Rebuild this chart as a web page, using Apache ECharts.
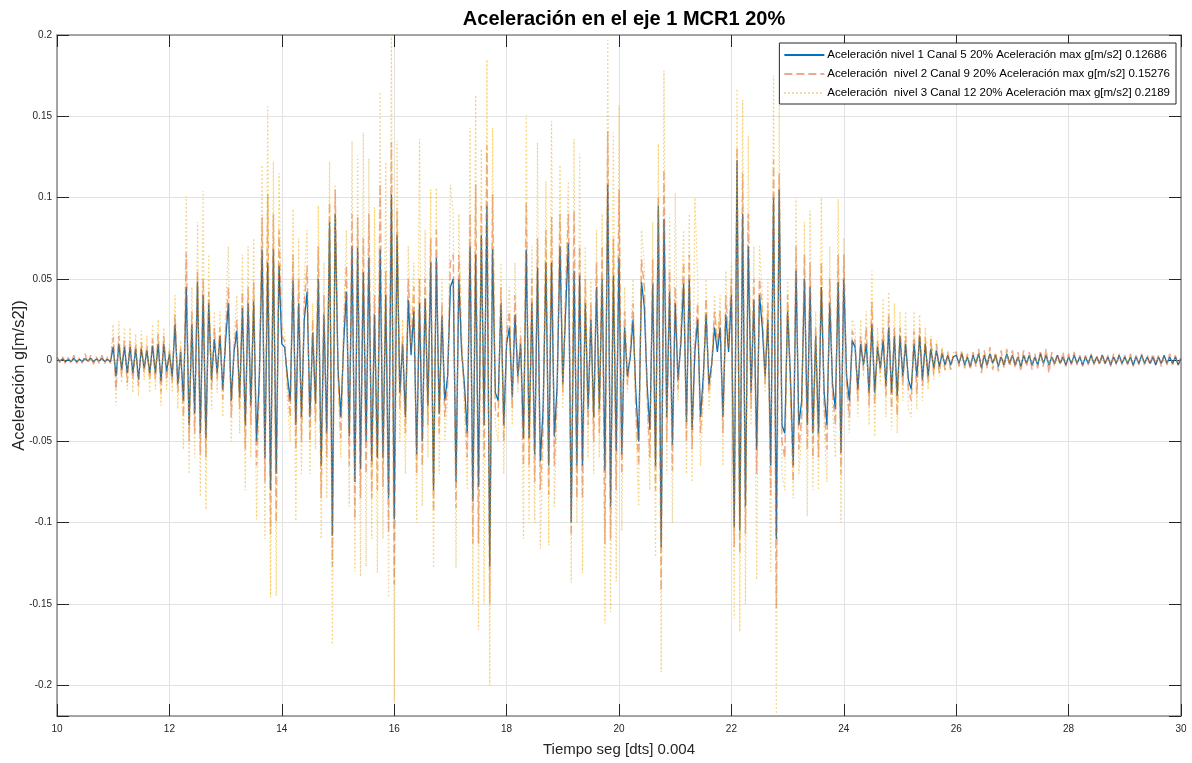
<!DOCTYPE html>
<html>
<head>
<meta charset="utf-8">
<script src="https://cdn.jsdelivr.net/npm/echarts@6/dist/echarts.min.js"></script>
<style>html,body{margin:0;padding:0;background:#fff;}#c{width:1192px;height:763px;}</style>
</head>
<body>
<div id="c"></div>
<script>
// Sampled record: start time and step (s)
const t0 = 10, dt = 0.05;

const xTicks = [10, 12, 14, 16, 18, 20, 22, 24, 26, 28, 30];

const nombres = [
  'Aceleración nivel 1 Canal 5 20% Aceleración max g[m/s2] 0.12686',
  'Aceleración  nivel 2 Canal 9 20% Aceleración max g[m/s2] 0.15276',
  'Aceleración  nivel 3 Canal 12 20% Aceleración max g[m/s2] 0.2189'
];

// Nivel 1 (blue)
const nivel1 = [
  0.001,-0.0005,0.0008,-0.001,0.0005,-0.0008,0.001,-0.001,0.0006,-0.0008,0.001,-0.0006,0.0012,-0.001,0.0008,-0.0005,0.001,-0.0008,0.0006,-0.001,
  0.008,-0.010,0.010,-0.006,0.008,-0.008,0.008,-0.008,0.007,-0.012,0.007,-0.005,0.006,-0.008,0.009,-0.008,0.010,-0.013,0.010,-0.007,
  0.004,-0.010,0.022,-0.015,0.005,-0.025,0.045,-0.040,0.022,-0.033,0.048,-0.045,0.040,-0.048,0.035,-0.012,0.013,-0.008,0.015,-0.018,
  0.012,0.035,-0.025,0.005,0.018,-0.023,0.032,-0.040,0.035,-0.028,0.036,-0.050,-0.010,0.068,-0.060,0.060,-0.080,0.068,-0.070,0.058,
  0.010,0.008,-0.010,-0.025,0.049,-0.040,0.035,-0.035,0.025,0.042,-0.035,0.017,-0.027,0.050,-0.065,0.028,-0.045,0.085,-0.108,0.090,
  -0.005,-0.035,0.010,0.042,-0.047,0.070,-0.075,0.069,-0.067,0.054,-0.050,0.063,-0.062,0.028,-0.060,0.068,-0.060,0.040,-0.085,0.102,
  -0.098,0.077,-0.020,0.010,-0.035,0.037,0.003,0.030,-0.058,0.035,-0.050,0.038,-0.028,0.060,-0.080,0.063,-0.033,0.027,-0.025,-0.010,
  0.045,0.050,-0.075,0.050,0.005,-0.015,-0.045,0.070,-0.087,0.065,-0.078,0.077,-0.040,0.095,-0.12686,0.068,-0.020,-0.025,0.035,-0.040,
  0.010,0.020,-0.023,0.028,-0.010,0.010,-0.048,0.068,-0.048,0.035,-0.058,0.057,-0.062,-0.030,0.060,-0.065,0.060,-0.047,-0.015,0.070,
  -0.015,0.030,0.072,-0.100,0.055,-0.065,0.052,-0.065,0.035,-0.030,0.025,-0.035,0.045,-0.030,0.050,-0.068,0.108,-0.090,0.052,-0.056,
  0.063,-0.058,0.020,-0.010,0.002,0.025,-0.020,-0.050,0.048,0.033,-0.015,-0.043,0.047,-0.065,0.095,-0.115,0.087,-0.035,0.042,-0.052,
  0.035,-0.012,0.010,0.047,-0.038,0.050,-0.043,0.005,0.025,-0.035,-0.010,0.028,-0.015,-0.002,0.020,0.005,0.020,-0.035,0.028,0.005,
  0.040,-0.103,0.123,-0.105,0.090,-0.090,0.070,-0.020,0.037,-0.055,0.040,0.020,-0.010,0.025,-0.065,0.100,-0.110,0.105,-0.040,-0.045,
  0.030,-0.010,-0.065,0.055,-0.040,-0.025,0.050,-0.040,0.045,-0.045,0.015,-0.045,0.045,-0.020,-0.040,0.035,-0.015,-0.030,0.048,-0.057,
  0.050,-0.010,-0.025,0.012,0.008,-0.018,0.010,-0.003,0.010,-0.020,0.022,-0.020,0.008,-0.005,0.012,-0.016,0.020,-0.020,0.015,-0.022,
  0.015,-0.010,0.010,-0.012,-0.018,0.010,-0.010,0.015,-0.012,0.010,-0.010,0.007,-0.005,0.006,-0.004,0.004,-0.003,0.003,-0.003,0.002,
  0.003,-0.002,0.004,-0.003,0.002,-0.004,0.003,-0.002,0.004,-0.005,0.003,-0.003,0.004,-0.002,0.003,-0.004,0.002,-0.003,0.004,-0.002,
  0.003,-0.003,0.002,-0.004,0.003,-0.002,0.003,-0.003,0.002,-0.003,0.004,-0.002,0.003,-0.003,0.002,-0.002,0.003,-0.002,0.002,-0.003,
  0.002,-0.002,0.003,-0.002,0.002,-0.003,0.002,-0.002,0.003,-0.002,0.002,-0.002,0.003,-0.002,0.002,-0.003,0.002,-0.002,0.003,-0.002,
  0.002,-0.002,0.002,-0.003,0.002,-0.002,0.003,-0.002,0.002,-0.002,0.002,-0.003,0.002,-0.002,0.003,-0.002,0.002,-0.002,0.002,-0.003,
  0.001
];

// Nivel 2 (orange, dashed)
const nivel2 = [
  0.002,-0.0015,0.002,-0.002,0.0015,-0.002,0.003,-0.002,0.0015,-0.002,0.004,-0.002,0.003,-0.0025,0.002,-0.002,0.003,-0.002,0.002,-0.002,
  0.014,-0.018,0.015,-0.010,0.012,-0.014,0.012,-0.012,0.010,-0.016,0.011,-0.008,0.009,-0.012,0.013,-0.012,0.016,-0.020,0.015,-0.012,
  0.006,-0.014,0.028,-0.020,0.008,-0.035,0.066,-0.050,0.030,-0.045,0.055,-0.058,0.050,-0.060,0.042,-0.018,0.020,-0.012,0.020,-0.024,
  0.018,0.045,-0.035,0.008,0.025,-0.030,0.042,-0.055,0.045,-0.040,0.048,-0.065,-0.015,0.088,-0.075,0.102,-0.107,0.090,-0.100,0.080,
  0.015,0.012,-0.015,-0.035,0.065,-0.055,0.050,-0.050,0.035,0.058,-0.050,0.025,-0.038,0.070,-0.085,0.040,-0.060,0.097,-0.127,0.105,
  -0.008,-0.048,0.015,0.058,-0.065,0.090,-0.098,0.088,-0.085,0.075,-0.070,0.090,-0.085,0.040,-0.080,0.108,-0.078,0.055,-0.106,0.134,
  -0.138,0.092,-0.030,0.015,-0.045,0.050,0.006,0.045,-0.070,0.050,-0.065,0.050,-0.040,0.075,-0.093,0.080,-0.045,0.035,-0.035,-0.015,
  0.060,0.065,-0.091,0.065,0.008,-0.020,-0.060,0.090,-0.113,0.108,-0.113,0.095,-0.060,0.132,-0.150,0.102,-0.030,-0.035,0.045,-0.050,
  0.015,0.030,-0.030,0.040,-0.015,0.015,-0.065,0.097,-0.065,0.050,-0.075,0.075,-0.080,-0.040,0.080,-0.083,0.088,-0.065,-0.020,0.090,
  -0.020,0.040,0.090,-0.108,0.092,-0.085,0.070,-0.085,0.050,-0.040,0.035,-0.050,0.060,-0.045,0.070,-0.113,0.141,-0.110,0.075,-0.080,
  0.105,-0.070,0.030,-0.015,0.004,0.035,-0.030,-0.065,0.062,0.045,-0.020,-0.060,0.062,-0.080,0.101,-0.142,0.117,-0.050,0.055,-0.068,
  0.045,-0.018,0.015,0.060,-0.050,0.065,-0.055,0.008,0.035,-0.045,-0.015,0.038,-0.020,-0.004,0.030,0.008,0.030,-0.045,0.040,0.008,
  0.050,-0.115,0.131,-0.119,0.115,-0.107,0.090,-0.030,0.050,-0.070,0.050,0.030,-0.015,0.035,-0.083,0.123,-0.15276,0.115,-0.050,-0.060,
  0.040,-0.015,-0.075,0.070,-0.055,-0.035,0.065,-0.055,0.060,-0.060,0.020,-0.060,0.060,-0.028,-0.055,0.050,-0.020,-0.040,0.065,-0.070,
  0.065,-0.015,-0.035,0.018,0.012,-0.025,0.015,-0.006,0.020,-0.028,0.036,-0.027,0.012,-0.008,0.020,-0.022,0.028,-0.030,0.020,-0.034,
  0.020,-0.015,0.015,-0.018,-0.025,0.018,-0.021,0.020,-0.016,0.014,-0.014,0.013,-0.009,0.010,-0.008,0.007,-0.006,0.005,-0.006,0.004,
  0.005,-0.004,0.006,-0.005,0.004,-0.006,0.005,-0.004,0.007,-0.008,0.006,-0.005,0.008,-0.006,0.005,-0.007,0.006,-0.005,0.007,-0.004,
  0.006,-0.005,0.005,-0.007,0.006,-0.004,0.005,-0.006,0.004,-0.005,0.006,-0.004,0.007,-0.008,0.005,-0.004,0.004,-0.003,0.005,-0.004,
  0.004,-0.003,0.005,-0.003,0.003,-0.004,0.003,-0.003,0.004,-0.003,0.003,-0.003,0.004,-0.003,0.003,-0.004,0.004,-0.003,0.004,-0.003,
  0.003,-0.003,0.004,-0.004,0.003,-0.003,0.004,-0.003,0.003,-0.003,0.004,-0.003,0.003,-0.004,0.003,-0.003,0.004,-0.003,0.003,-0.003,
  0.002
];

// Nivel 3 (yellow, dotted)
const nivel3 = [
  0.0006,-0.0005,0.0005,-0.0006,0.0004,-0.0005,0.0006,-0.0005,0.0004,-0.0006,0.0007,-0.0005,0.0006,-0.0006,0.0005,-0.0004,0.0006,-0.0005,0.0004,-0.0006,
  0.022,-0.028,0.024,-0.014,0.020,-0.018,0.020,-0.020,0.016,-0.022,0.018,-0.012,0.015,-0.020,0.022,-0.018,0.025,-0.028,0.020,-0.018,
  0.010,-0.020,0.040,-0.030,0.012,-0.055,0.101,-0.070,0.045,-0.060,0.085,-0.084,0.104,-0.092,0.065,-0.030,0.030,-0.020,0.030,-0.035,
  0.030,0.070,-0.050,0.015,0.040,-0.045,0.065,-0.080,0.070,-0.060,0.075,-0.098,-0.020,0.120,-0.110,0.156,-0.146,0.122,-0.145,0.115,
  0.020,0.018,-0.025,-0.050,0.093,-0.099,0.075,-0.070,0.050,0.080,-0.070,0.035,-0.055,0.095,-0.110,0.060,-0.085,0.122,-0.175,0.108,
  -0.012,-0.060,0.025,0.080,-0.090,0.135,-0.130,0.126,-0.133,0.140,-0.127,0.124,-0.110,0.094,-0.131,0.165,-0.110,0.122,-0.146,0.200,
  -0.210,0.135,-0.050,0.025,-0.070,0.070,0.010,0.060,-0.100,0.136,-0.090,0.080,-0.060,0.105,-0.128,0.106,-0.070,0.050,-0.050,-0.025,
  0.108,0.090,-0.128,0.090,0.015,-0.030,-0.080,0.143,-0.150,0.163,-0.166,0.130,-0.150,0.185,-0.200,0.143,-0.040,-0.050,0.060,-0.070,
  0.020,0.045,-0.040,0.060,-0.020,0.020,-0.110,0.151,-0.100,0.070,-0.100,0.134,-0.116,-0.050,0.110,-0.114,0.147,-0.090,-0.030,0.120,
  -0.030,0.050,0.110,-0.137,0.136,-0.100,0.127,-0.131,0.070,-0.060,0.050,-0.070,0.080,-0.060,0.090,-0.162,0.197,-0.155,0.140,-0.136,
  0.157,-0.105,0.045,-0.020,0.006,0.050,-0.040,-0.090,0.080,0.060,-0.030,-0.080,0.085,-0.121,0.133,-0.192,0.178,-0.070,0.090,-0.100,
  0.103,-0.025,0.020,0.080,-0.070,0.090,-0.075,0.100,0.050,-0.065,-0.020,0.050,-0.030,-0.006,0.040,0.010,0.040,-0.065,0.055,0.010,
  0.060,-0.159,0.167,-0.167,0.160,-0.150,0.138,-0.040,0.070,-0.135,0.070,0.040,-0.020,0.050,-0.131,0.175,-0.2189,0.157,-0.070,-0.080,
  0.050,-0.020,-0.085,0.100,-0.070,-0.045,0.085,-0.096,0.092,-0.080,0.030,-0.080,0.100,-0.040,-0.075,0.070,-0.030,-0.060,0.099,-0.100,
  0.075,-0.020,-0.045,0.025,0.020,-0.035,0.025,-0.010,0.030,-0.040,0.055,-0.047,0.020,-0.015,0.038,-0.035,0.042,-0.043,0.035,-0.045,
  0.030,-0.025,0.030,-0.030,-0.035,0.030,-0.030,0.028,-0.025,0.020,-0.018,0.015,-0.012,0.012,-0.010,0.008,-0.007,0.006,-0.006,0.005,
  0.004,-0.003,0.005,-0.004,0.003,-0.005,0.004,-0.003,0.005,-0.006,0.004,-0.004,0.005,-0.003,0.004,-0.005,0.003,-0.004,0.005,-0.003,
  0.003,-0.003,0.002,-0.004,0.003,-0.002,0.003,-0.003,0.002,-0.003,0.003,-0.002,0.003,-0.003,0.002,-0.002,0.002,-0.002,0.002,-0.002,
  0.002,-0.001,0.002,-0.002,0.001,-0.002,0.001,-0.001,0.002,-0.001,0.001,-0.002,0.002,-0.001,0.001,-0.002,0.001,-0.001,0.002,-0.001,
  0.001,-0.001,0.002,-0.001,0.001,-0.001,0.002,-0.001,0.001,-0.001,0.002,-0.001,0.001,-0.001,0.001,-0.002,0.001,-0.001,0.001,-0.001,
  0.001
];

const FONT = "'Liberation Sans', Arial, Helvetica, sans-serif";
const toPairs = arr => arr.map((v, i) => [+(t0 + i * dt).toFixed(3), v]);

const yFmt = v => {
  const k = v / 0.05;
  if (Math.abs(k - Math.round(k)) > 1e-6) return '';
  return String(+v.toFixed(4));
};

const axisLineStyle = { color: '#8a8a8a', width: 1.5 };
const tickStyle = { color: '#262626', width: 1 };

const chart = echarts.init(document.getElementById('c'), null, { renderer: 'canvas' });
chart.setOption({
  animation: false,
  backgroundColor: '#ffffff',
  textStyle: { fontFamily: FONT },
  title: {
    text: 'Aceleración en el eje 1 MCR1 20%',
    left: 619, top: 4, textAlign: 'center',
    textStyle: { fontFamily: FONT, fontSize: 20, fontWeight: 'bold', color: '#000' }
  },
  grid: { left: 57, right: 11, top: 35, bottom: 47, containLabel: false, outerBoundsMode: 'none' },
  legend: {
    orient: 'vertical', right: 16, top: 43,
    backgroundColor: '#fff', borderColor: '#262626', borderWidth: 1,
    padding: [6, 6, 5, 4], itemGap: 7, itemWidth: 40, itemHeight: 12,
    itemStyle: { opacity: 0 },
    textStyle: { fontFamily: FONT, fontSize: 11.5, color: '#000', padding: [0, 0, 0, -2] },
    data: nombres
  },
  xAxis: [
    {
      type: 'value', min: 10, max: 30, interval: 2, position: 'bottom',
      axisLine: { show: true, onZero: false, lineStyle: axisLineStyle },
      axisTick: { show: true, inside: true, length: 12, lineStyle: tickStyle },
      axisLabel: { color: '#262626', fontSize: 10, margin: 8, fontFamily: FONT },
      splitLine: { show: true, lineStyle: { color: '#e2e2e2', width: 1 } },
      name: 'Tiempo seg [dts] 0.004', nameLocation: 'middle', nameGap: 26,
      nameTextStyle: { fontSize: 15, color: '#262626', fontFamily: FONT }
    },
    {
      type: 'value', min: 10, max: 30, interval: 2, position: 'top',
      axisLine: { show: true, onZero: false, lineStyle: axisLineStyle },
      axisTick: { show: true, inside: true, length: 12, lineStyle: tickStyle },
      axisLabel: { show: false }, splitLine: { show: false }
    }
  ],
  yAxis: [
    {
      type: 'value', min: -0.2189, max: 0.2, minInterval: 0.05, maxInterval: 0.05, splitNumber: 8,
      position: 'left',
      axisLine: { show: true, onZero: false, lineStyle: axisLineStyle },
      axisTick: { show: true, inside: true, length: 12, lineStyle: tickStyle },
      axisLabel: { color: '#262626', fontSize: 10, margin: 5, fontFamily: FONT, formatter: yFmt },
      splitLine: { show: true, lineStyle: { color: '#e2e2e2', width: 1 } },
      name: 'Aceleración g[m/s2])', nameLocation: 'middle', nameGap: 29, nameRotate: 90,
      nameMoveOverlap: false,
      nameTextStyle: { fontSize: 16.5, color: '#262626', fontFamily: FONT }
    },
    {
      type: 'value', min: -0.2189, max: 0.2, minInterval: 0.05, maxInterval: 0.05, splitNumber: 8,
      position: 'right',
      axisLine: { show: true, onZero: false, lineStyle: axisLineStyle },
      axisTick: { show: true, inside: true, length: 12, lineStyle: tickStyle },
      axisLabel: { show: false }, splitLine: { show: false }
    }
  ],
  series: [
    {
      name: nombres[0], type: 'line', data: toPairs(nivel1), xAxisIndex: 0, yAxisIndex: 0,
      symbol: 'none', showSymbol: false, sampling: 'none', clip: true, z: 3,
      color: '#0072BD',
      lineStyle: { color: '#0072BD', width: 1.3, type: 'solid' }
    },
    {
      name: nombres[1], type: 'line', data: toPairs(nivel2), xAxisIndex: 0, yAxisIndex: 0,
      symbol: 'none', showSymbol: false, sampling: 'none', clip: true, z: 4,
      color: '#D95319',
      lineStyle: { color: '#D95319', width: 1.5, type: [8, 4], opacity: 0.5 }
    },
    {
      name: nombres[2], type: 'line', data: toPairs(nivel3), xAxisIndex: 0, yAxisIndex: 0,
      symbol: 'none', showSymbol: false, sampling: 'none', clip: true, z: 5,
      color: '#EDB120',
      lineStyle: { color: '#EDB120', width: 1.2, type: [1.5, 2.5], opacity: 0.6 }
    }
  ]
});
</script>
</body>
</html>
